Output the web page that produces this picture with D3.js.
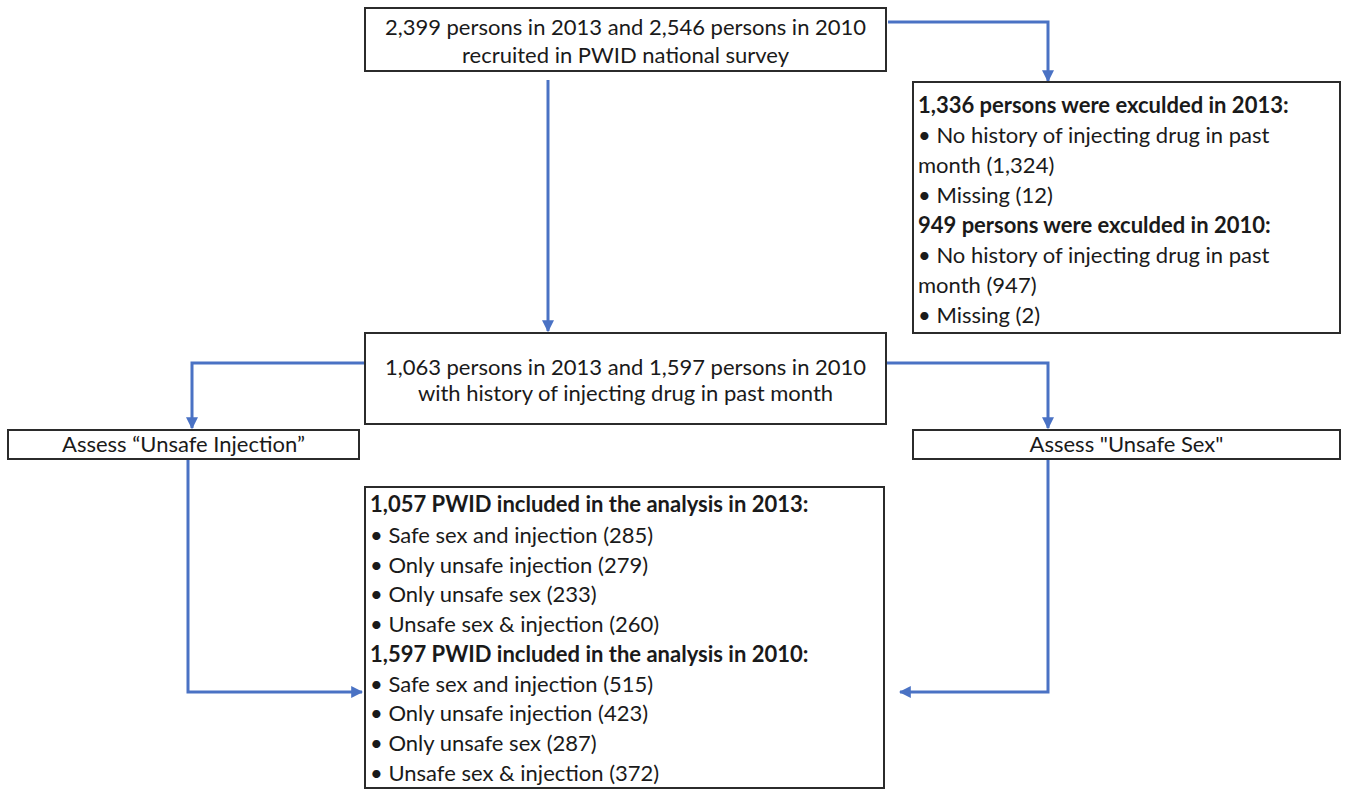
<!DOCTYPE html>
<html>
<head>
<meta charset="utf-8">
<script src="https://cdn.jsdelivr.net/npm/d3@7"></script>
<style>
  body { margin: 0; background: #fff; }
  svg { display: block; }
  text { font-family: Lato, "Open Sans", sans-serif; fill: #1a1a1a; }
</style>
</head>
<body>
<svg class="chart"></svg>
<script>
// box texts (b: bold heading line)
const recruitedLines = [
  '2,399 persons in 2013 and  2,546 persons in 2010',
  'recruited in PWID national survey'
];
const excludedLines = [
  { t: '1,336 persons were exculded in 2013:', b: true },
  { t: '• No history of injecting drug in past' },
  { t: 'month (1,324)' },
  { t: '• Missing (12)' },
  { t: '949 persons were exculded in 2010:', b: true },
  { t: '• No history of injecting drug in past' },
  { t: 'month (947)' },
  { t: '• Missing (2)' }
];
const historyLines = [
  '1,063 persons in 2013 and 1,597 persons in 2010',
  'with history of injecting drug in past month'
];
const injectionLines = ['Assess \u201cUnsafe Injection\u201d'];
const sexLines = ['Assess "Unsafe Sex"'];
const includedLines = [
  { t: '1,057 PWID included in the analysis in 2013:', b: true },
  { t: '• Safe sex and injection (285)' },
  { t: '• Only unsafe injection (279)' },
  { t: '• Only unsafe sex (233)' },
  { t: '• Unsafe sex & injection (260)' },
  { t: '1,597 PWID included in the analysis in 2010:', b: true },
  { t: '• Safe sex and injection (515)' },
  { t: '• Only unsafe injection (423)' },
  { t: '• Only unsafe sex (287)' },
  { t: '• Unsafe sex & injection (372)' }
];

const startApp = () => {
  const viewBox = { width: 1347, height: 790 };
  const x = d3.scaleLinear().domain([0, viewBox.width]).range([0, viewBox.width]);
  const y = d3.scaleLinear().domain([0, viewBox.height]).range([0, viewBox.height]);
  const blue = '#4a72c4';

  const svg = d3.select('.chart')
    .attr('width', viewBox.width)
    .attr('height', viewBox.height);

  svg.append('defs').append('marker')
    .attr('id', 'head')
    .attr('viewBox', '0 0 10 10')
    .attr('refX', 9).attr('refY', 5)
    .attr('markerWidth', 4).attr('markerHeight', 4)
    .attr('markerUnits', 'strokeWidth')
    .attr('orient', 'auto')
    .append('path').attr('d', 'M0,0 L10,5 L0,10 Z').attr('fill', blue);

  // layout of the boxes
  const boxes = [
    { x0: 365, y0: 8, x1: 886, y1: 71, lines: recruitedLines.map(t => ({ t })), align: 'middle', ys: [27, 55] },
    { x0: 913, y0: 82, x1: 1340, y1: 333, lines: excludedLines, align: 'start', ys: [105, 135, 165, 195, 225, 255, 285, 315] },
    { x0: 365, y0: 333, x1: 886, y1: 424, lines: historyLines.map(t => ({ t })), align: 'middle', ys: [367, 393] },
    { x0: 8, y0: 430, x1: 359, y1: 459, lines: injectionLines.map(t => ({ t })), align: 'middle', ys: [444] },
    { x0: 913, y0: 430, x1: 1340, y1: 459, lines: sexLines.map(t => ({ t })), align: 'middle', ys: [444] },
    { x0: 365, y0: 487, x1: 884, y1: 788, lines: includedLines, align: 'start', ys: [504, 535, 565, 594, 624, 654, 684, 713, 743, 773] }
  ];

  // connectors
  const arrows = [
    [[888, 22], [1048, 22], [1048, 81]],
    [[548, 80], [548, 331]],
    [[364, 363], [192, 363], [192, 428]],
    [[887, 363], [1048, 363], [1048, 428]],
    [[188, 460], [188, 692], [362, 692]],
    [[1048, 460], [1048, 692], [900, 692]]
  ];

  const line = d3.line().x(d => x(d[0])).y(d => y(d[1]));
  svg.append('g').selectAll('path')
    .data(arrows)
    .enter()
    .append('path')
    .attr('d', line)
    .attr('fill', 'none')
    .attr('stroke', blue)
    .attr('stroke-width', 3)
    .attr('marker-end', 'url(#head)');

  const g = svg.append('g').selectAll('g')
    .data(boxes)
    .enter()
    .append('g');

  g.append('rect')
    .attr('x', d => x(d.x0))
    .attr('y', d => y(d.y0))
    .attr('width', d => x(d.x1) - x(d.x0))
    .attr('height', d => y(d.y1) - y(d.y0))
    .attr('fill', '#fff')
    .attr('stroke', '#2b2b2b')
    .attr('stroke-width', 2);

  g.each(function (d) {
    d3.select(this).selectAll('text')
      .data(d.lines)
      .enter()
      .append('text')
      .attr('x', d.align === 'middle' ? x((d.x0 + d.x1) / 2) : x(d.x0 + 5))
      .attr('y', (l, i) => y(d.ys[i]))
      .attr('dy', '0.35em')
      .attr('text-anchor', d.align)
      .attr('font-size', 22)
      .attr('font-weight', l => (l.b ? 700 : 400))
      .text(l => l.t);
  });
};

window.onload = startApp;
</script>
</body>
</html>
